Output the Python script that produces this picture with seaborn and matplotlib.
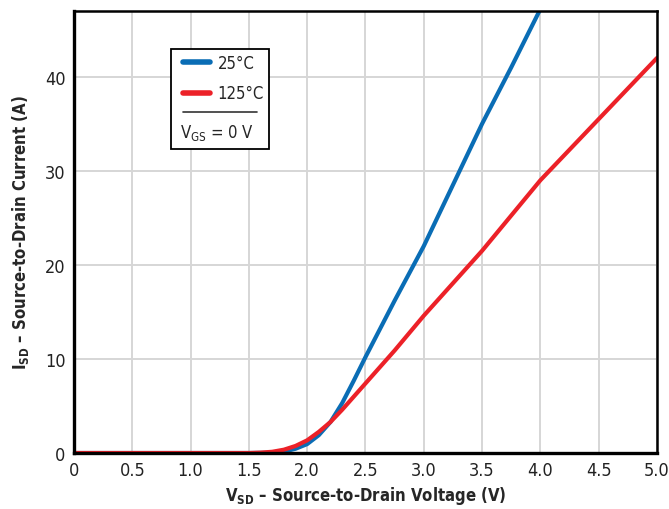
import matplotlib
matplotlib.use('Agg')
import matplotlib.pyplot as plt
import pandas as pd
import seaborn as sns
from matplotlib.lines import Line2D
from matplotlib.patches import Rectangle

# Data
v_25 = [0.0, 1.0, 1.5, 1.7, 1.8, 1.9, 2.0, 2.1, 2.2, 2.3, 2.4, 2.5, 2.75, 3.0, 3.25, 3.5, 3.75, 4.0, 4.1]
i_25 = [0.0, 0.0, 0.0, 0.03, 0.15, 0.45, 0.95, 1.9, 3.3, 5.3, 7.7, 10.2, 16.2, 22.0, 28.5, 35.0, 41.0, 47.2, 49.5]
v_125 = [0.0, 1.0, 1.5, 1.6, 1.7, 1.8, 1.9, 2.0, 2.1, 2.2, 2.3, 2.4, 2.5, 2.75, 3.0, 3.5, 4.0, 4.5, 5.0]
i_125 = [0.0, 0.0, 0.0, 0.04, 0.13, 0.35, 0.75, 1.35, 2.25, 3.3, 4.6, 6.0, 7.4, 10.9, 14.6, 21.5, 29.0, 35.5, 42.0]
temps = ['25°C', '125°C']
colors = ['#0a6db5', '#ec2128']

x_ticks = [0, 0.5, 1.0, 1.5, 2.0, 2.5, 3.0, 3.5, 4.0, 4.5, 5.0]
x_tick_labels = ['0', '0.5', '1.0', '1.5', '2.0', '2.5', '3.0', '3.5', '4.0', '4.5', '5.0']
y_ticks = [0, 10, 20, 30, 40]

df = pd.concat([
    pd.DataFrame({'vsd': v_25, 'isd': i_25, 'temp': temps[0]}),
    pd.DataFrame({'vsd': v_125, 'isd': i_125, 'temp': temps[1]}),
])

sns.set_style('white')
plt.rcParams['font.family'] = ['DejaVu Sans']
plt.rcParams['font.stretch'] = 'condensed'
plt.rcParams['mathtext.fontset'] = 'custom'
plt.rcParams['mathtext.rm'] = 'DejaVu Sans:stretch=condensed'
plt.rcParams['mathtext.bf'] = 'DejaVu Sans:bold:stretch=condensed'

fig = plt.figure(figsize=(6.69, 5.10), dpi=100)
ax = fig.add_axes([0.1106, 0.1098, 0.8714, 0.8667])

sns.lineplot(data=df, x='vsd', y='isd', hue='temp', hue_order=temps,
             palette=colors, linewidth=3, ax=ax, legend=False, sort=False)

ax.set_xlim(0, 5.0)
ax.set_ylim(0, 47)
ax.set_xticks(x_ticks)
ax.set_xticklabels(x_tick_labels)
ax.set_yticks(y_ticks)
ax.tick_params(length=0, labelsize=13, pad=6, colors='#222222')
ax.grid(True, color='#d6d6d6', linewidth=1.4)
ax.set_axisbelow(True)
for side in ['left', 'bottom']:
    ax.spines[side].set_linewidth(2.4)
for side in ['top', 'right']:
    ax.spines[side].set_linewidth(1.8)
for sp in ax.spines.values():
    sp.set_color('black')

ax.set_xlabel(r'$\mathbf{V_{SD}}$ – Source-to-Drain Voltage (V)', fontsize=12,
              fontweight='bold', labelpad=3)
ax.set_ylabel(r'$\mathbf{I_{SD}}$ – Source-to-Drain Current (A)', fontsize=12,
              fontweight='bold', labelpad=10)

# Legend box
box = Rectangle((0.166, 0.688), 0.168, 0.226, transform=ax.transAxes,
                facecolor='white', edgecolor='black', linewidth=1.3, zorder=5)
ax.add_patch(box)
handles = [Line2D([], [], color=c, linewidth=4) for c in colors]
leg = ax.legend(handles, temps, loc='upper left', bbox_to_anchor=(0.176, 0.918),
                frameon=False, fontsize=12, handlelength=1.6, handletextpad=0.45,
                labelspacing=0.75, borderaxespad=0)
leg.set_zorder(6)
ax.add_line(Line2D([0.187, 0.314], [0.771, 0.771], transform=ax.transAxes,
                   color='#333333', linewidth=1.2, zorder=6))
ax.text(0.245, 0.726, r'$\mathrm{V_{GS}}$ = 0 V', transform=ax.transAxes,
        ha='center', va='center', fontsize=12, zorder=6)

fig.savefig('out.png', dpi=100)
